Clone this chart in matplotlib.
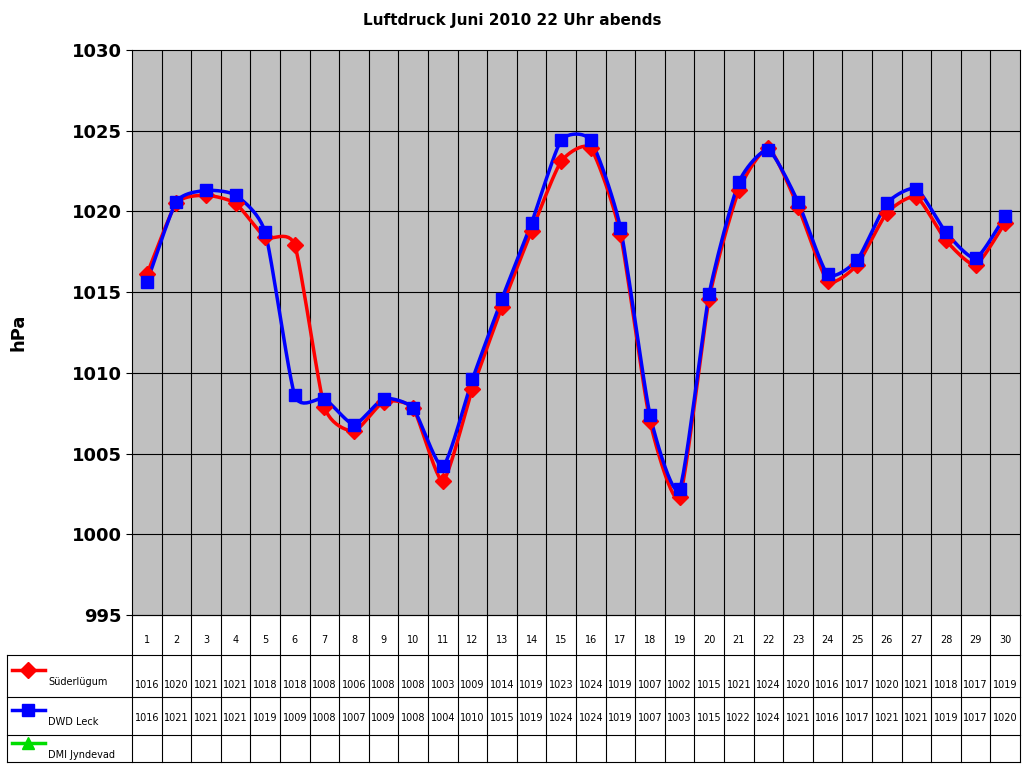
import matplotlib
matplotlib.use("Agg")
import matplotlib.pyplot as plt
import numpy as np

days = list(range(1, 31))
suederluegum = [1016.1, 1020.5, 1021.0, 1020.5, 1018.4, 1017.9, 1007.9, 1006.4, 1008.2, 1007.8,
                1003.3, 1009.0, 1014.1, 1018.8, 1023.1, 1023.9, 1018.6, 1007.0, 1002.3, 1014.6,
                1021.3, 1023.9, 1020.3, 1015.7, 1016.7, 1019.9, 1020.9, 1018.2, 1016.7, 1019.3]
dwd_leck = [1015.6, 1020.6, 1021.3, 1021.0, 1018.7, 1008.6, 1008.4, 1006.8, 1008.4, 1007.8,
            1004.2, 1009.6, 1014.6, 1019.3, 1024.4, 1024.4, 1019.0, 1007.4, 1002.8, 1014.9,
            1021.8, 1023.8, 1020.6, 1016.1, 1017.0, 1020.5, 1021.4, 1018.7, 1017.1, 1019.7]
# table labels as printed in the reference
suederluegum_lbl = [1016, 1020, 1021, 1021, 1018, 1018, 1008, 1006, 1008, 1008, 1003, 1009, 1014, 1019, 1023,
                    1024, 1019, 1007, 1002, 1015, 1021, 1024, 1020, 1016, 1017, 1020, 1021, 1018, 1017, 1019]
dwd_leck_lbl = [1016, 1021, 1021, 1021, 1019, 1009, 1008, 1007, 1009, 1008, 1004, 1010, 1015, 1019, 1024,
                1024, 1019, 1007, 1003, 1015, 1022, 1024, 1021, 1016, 1017, 1021, 1021, 1019, 1017, 1020]
series_names = ["Süderlügum", "DWD Leck", "DMI Jyndevad"]
colors = ["#FF0000", "#0000FF", "#00DD00"]
markers = ["D", "s", "^"]


def smooth(x, y, n=12, k=0.6):
    # cubic Hermite curve through the points, like Excel's smoothed lines
    x = np.asarray(x, float)
    y = np.asarray(y, float)
    px = np.concatenate([[2 * x[0] - x[1]], x, [2 * x[-1] - x[-2]]])
    py = np.concatenate([[2 * y[0] - y[1]], y, [2 * y[-1] - y[-2]]])
    t = np.linspace(0, 1, n, endpoint=False)
    h00 = 2 * t ** 3 - 3 * t ** 2 + 1
    h10 = t ** 3 - 2 * t ** 2 + t
    h01 = -2 * t ** 3 + 3 * t ** 2
    h11 = t ** 3 - t ** 2
    xs, ys = [], []
    for i in range(1, len(px) - 2):
        for p, out in ((px, xs), (py, ys)):
            m1 = k * 0.5 * (p[i + 1] - p[i - 1])
            m2 = k * 0.5 * (p[i + 2] - p[i])
            out.extend(h00 * p[i] + h10 * m1 + h01 * p[i + 1] + h11 * m2)
    xs.append(x[-1])
    ys.append(y[-1])
    return xs, ys


W, H = 1024, 768
fig = plt.figure(figsize=(W / 100, H / 100), dpi=100)
left, right, top, bottom = 132, 1020, 50, 615
ax = fig.add_axes([left / W, 1 - bottom / H, (right - left) / W, (bottom - top) / H])
ax.set_facecolor("#C0C0C0")
ax.set_xlim(0.5, 30.5)
ax.set_ylim(995, 1030)
ax.set_yticks(range(995, 1031, 5))
ax.set_yticklabels([str(v) for v in range(995, 1031, 5)], fontsize=13, fontweight="bold")
ax.set_xticks([])
for v in range(1000, 1030, 5):
    ax.axhline(v, color="black", lw=0.8, zorder=1)
for d in np.arange(1.5, 30.5, 1):
    ax.axvline(d, color="black", lw=0.8, zorder=1)
for s in ax.spines.values():
    s.set_color("black")
ax.tick_params(axis="y", length=4)
ax.set_ylabel("hPa", fontsize=13, fontweight="bold", labelpad=32)

for vals, c, m in ((suederluegum, colors[0], markers[0]), (dwd_leck, colors[1], markers[1])):
    xs, ys = smooth(days, vals)
    ax.plot(xs, ys, color=c, lw=2.5, zorder=3)
    ax.plot(days, vals, ls="none", marker=m, color=c, ms=9 if m == "s" else 8, zorder=4)

fig.text(0.5, 1 - 20 / H, "Luftdruck Juni 2010 22 Uhr abends", ha="center", va="center",
         fontsize=11, fontweight="bold")

# data table below the plot, in pixel coordinates
tx = fig.add_axes([0, 0, 1, 1], facecolor="none")
tx.set_xlim(0, W)
tx.set_ylim(H, 0)
tx.axis("off")
cw = (right - left) / 30
rows = [615, 655, 697, 735, 762]
lc = "black"
for xv in [left + i * cw for i in range(31)]:
    tx.plot([xv, xv], [rows[0], rows[-1]], color=lc, lw=0.8)
tx.plot([7, 7], [rows[1], rows[-1]], color=lc, lw=0.8)
tx.plot([left, right], [rows[0], rows[0]], color=lc, lw=0.8)
for yv in rows[1:]:
    tx.plot([7, right], [yv, yv], color=lc, lw=0.8)
for i, d in enumerate(days):
    cx = left + (i + 0.5) * cw
    tx.text(cx, 640, str(d), ha="center", va="center", fontsize=7)
    tx.text(cx, 685, str(suederluegum_lbl[i]), ha="center", va="center", fontsize=7)
    tx.text(cx, 718, str(dwd_leck_lbl[i]), ha="center", va="center", fontsize=7)
for r, (name, c, m) in enumerate(zip(series_names, colors, markers)):
    yc = (rows[r + 1] + rows[r + 2]) / 2
    tx.plot([12, 45], [yc - 6, yc - 6], color=c, lw=2.5)
    tx.plot([28], [yc - 6], marker=m, color=c, ms=8)
    tx.text(48, yc + 6, name, ha="left", va="center", fontsize=7)

fig.savefig("out.png", dpi=100, facecolor="white")
